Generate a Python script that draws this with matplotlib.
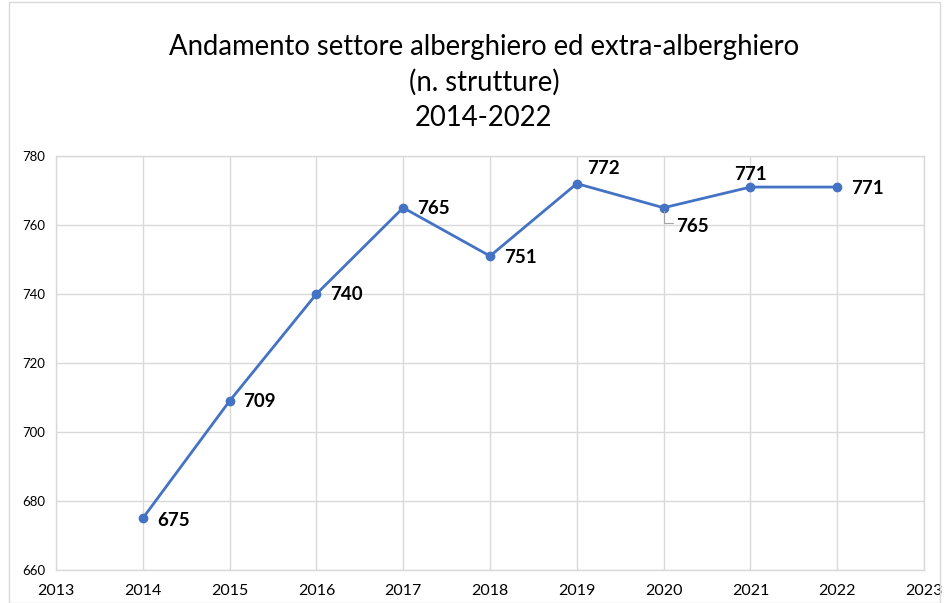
import matplotlib
matplotlib.use("Agg")
import matplotlib.pyplot as plt
from matplotlib.patches import Rectangle

years = [2014, 2015, 2016, 2017, 2018, 2019, 2020, 2021, 2022]
values = [675, 709, 740, 765, 751, 772, 765, 771, 771]
x_ticks = list(range(2013, 2024))
y_ticks = [660, 680, 700, 720, 740, 760, 780]
title_lines = ["Andamento settore alberghiero ed extra-alberghiero", "(n. strutture)", "2014-2022"]

# label offsets in pixels (dx, dy) and alignment
label_offsets = [(14, -2, 'left'), (14, -1, 'left'), (14, 0, 'left'), (14, -1, 'left'),
                 (14, -1, 'left'), (10, 15, 'left'), (13, -19, 'left'), (0, 13, 'center'),
                 (14, -1, 'left')]

plt.rcParams['font.family'] = ['Lato', 'DejaVu Sans']

fig = plt.figure(figsize=(9.44, 6.03), dpi=100)
ax = fig.add_axes([56/944, 1-570/603, (924-56)/944, (570-156)/603])

grid_c = '#D9D9D9'
line_c = '#4472C4'

ax.plot(years, values, color=line_c, lw=2, marker='o', ms=6, zorder=3)

for x, v, (dx, dy, ha) in zip(years, values, label_offsets):
    ax.annotate(str(v), (x, v), xytext=(dx, dy), textcoords='offset pixels',
                ha=ha, va='center', fontsize=13.5, fontweight='bold', color='#000000', zorder=4)

# leader line for 2020 label
ax.annotate("", xy=(2020, 765), xytext=(12, -15), textcoords='offset pixels',
            arrowprops=dict(arrowstyle='-', color='#A6A6A6', lw=0.8,
                            connectionstyle='angle,angleA=0,angleB=90,rad=0'))

ax.set_xlim(2013, 2023)
ax.set_ylim(660, 780)
ax.set_xticks(x_ticks)
ax.set_yticks(y_ticks)
ax.set_xticklabels([str(t) for t in x_ticks], fontsize=11.5)
ax.set_yticklabels([str(t) for t in y_ticks], fontsize=9.5)
ax.tick_params(length=0, pad=8)
ax.tick_params(axis='x', pad=10)
ax.grid(True, color=grid_c, lw=1)
ax.set_axisbelow(True)
for s in ax.spines.values():
    s.set_color(grid_c)
    s.set_linewidth(1)

for i, (t, y) in enumerate(zip(title_lines, [47, 82, 118])):
    fig.text(484/944, 1-y/603, t, ha='center', va='center', fontsize=19.8, color='#000000')

fig.patches.append(Rectangle((9/944, 0), (940-9)/944, 1-2/603, transform=fig.transFigure,
                             fill=False, edgecolor=grid_c, lw=1))

fig.savefig("out.png", dpi=100)
